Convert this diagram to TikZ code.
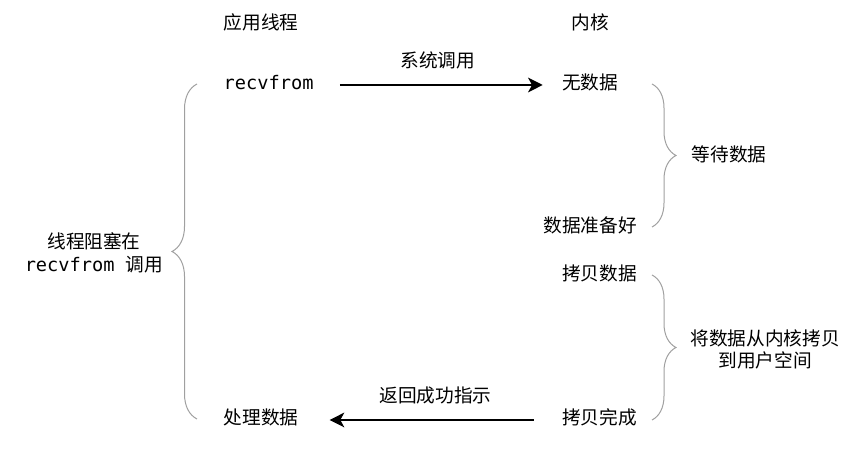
\documentclass[tikz,border=0pt]{standalone}
\usepackage{fontspec}
\setmainfont{Noto Sans CJK SC}
\setmonofont{DejaVu Sans Mono}
\usepackage{tikz}
\usetikzlibrary{arrows.meta, positioning, calc, decorations.pathreplacing}
\definecolor{braceGray}{RGB}{160, 160, 160}
\tikzstyle{arrow} = [line width=1.5pt, -{Stealth[length=11pt, width=11pt, inset=3pt]}]
\tikzstyle{basic} = [inner sep=0pt, text=black, text height=0.85em, text depth=0.15em, font=\fontsize{14pt}{17pt}\selectfont]
\tikzstyle{note} = [inner sep=0pt, text=black, align=center, font=\fontsize{14pt}{17pt}\selectfont]
\tikzstyle{brace} = [draw=braceGray, line width=0.75pt, decorate]

\begin{document}
\begin{tikzpicture}[x=0.75pt, y=0.75pt]
\useasboundingbox (0,0) rectangle (851,459);

\node (thread) [basic] at (261,434) {应用线程};
\node (kernel) [basic, xshift=246.75pt] at(thread.center) {内核};

\node (recv) [basic, anchor=west, yshift=-45pt] at(thread.west) {\texttt{recvfrom}};
\node (proc) [basic, anchor=west, yshift=-296.25pt] at(thread.west) {处理数据};

\node (nodata) [basic, yshift=-45pt] at(kernel.center) {无数据};
\node (ready) [basic, yshift=-152.25pt] at(kernel.center) {数据准备好};
\node (copy) [basic, anchor=east, yshift=-36pt] at(ready.east) {拷贝数据};
\node (done) [basic, anchor=east, yshift=-108pt] at(copy.east) {拷贝完成};

\draw [arrow, shorten <=19.5pt, shorten >=14.25pt] (recv.east) -- node[basic, midway, above=11pt] {系统调用} (recv.east -| nodata.west);
\draw [arrow, shorten <=21pt, shorten >=23.25pt] (done.west) -- node[basic, pos=0.48, above=11pt] {返回成功指示} (done.west -| proc.east);

% braces
\coordinate (waitTop) at (652,375);
\coordinate (waitBot) at (652,232);
\coordinate (copyTop) at (652,184);
\coordinate (copyBot) at (652,39);
\coordinate (blockBot) at (197,40);
\coordinate (blockTop) at (197,375);
\draw [brace, decoration={brace, amplitude=18pt}] (waitTop) -- (waitBot);
\draw [brace, decoration={brace, amplitude=18pt}] (copyTop) -- (copyBot);
\draw [brace, decoration={brace, amplitude=18.75pt}] (blockBot) -- (blockTop);

\node (wait) [basic] at (729,302) {等待数据};
\node (copyNote) [note, font=\fontsize{14pt}{16.5pt}\selectfont] at (765,110) {将数据从内核拷贝\\到用户空间};
\node (blockNote) [note, font=\fontsize{14pt}{17pt}\selectfont] at (94,206) {线程阻塞在\\\texttt{recvfrom }调用};

\end{tikzpicture}
\end{document}
